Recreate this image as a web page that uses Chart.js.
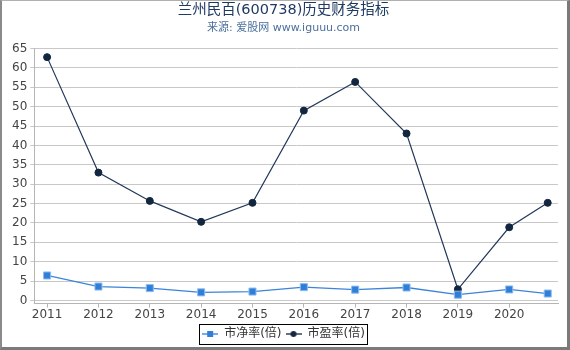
<!DOCTYPE html>
<html>
<head>
<meta charset="utf-8">
<script src="https://cdn.jsdelivr.net/npm/chart.js@4/dist/chart.umd.min.js"></script>
<style>
  html, body { margin: 0; padding: 0; background: #fff; }
  canvas { display: block; position: absolute; left: 0; top: 0; }
  #frame {
    position: absolute; left: 0; top: 0;
    width: 565px; height: 346px;
    border-left: 2px solid #8a8a8a;
    border-top: 1px solid #b0b0b0;
    border-right: 3px solid #7a7a7a;
    border-bottom: 3px solid #7a7a7a;
    pointer-events: none;
  }
</style>
</head>
<body>
<canvas id="chart" width="570" height="350"></canvas>
<div id="frame"></div>
<script>
// data
const years = [2011, 2012, 2013, 2014, 2015, 2016, 2017, 2018, 2019, 2020, 2020.75];
const tickYears = [2011, 2012, 2013, 2014, 2015, 2016, 2017, 2018, 2019, 2020];
const pbValues = [6.46, 3.6, 3.2, 2.1, 2.3, 3.45, 2.8, 3.35, 1.5, 2.85, 1.8];
const peValues = [62.8, 33.0, 25.7, 20.3, 25.2, 49.0, 56.4, 43.1, 2.9, 18.9, 25.2];
const seriesNames = ['市净率(倍)', '市盈率(倍)'];

const FONT = "'DejaVu Sans', 'Noto Sans CJK SC', sans-serif";
const PB_COLOR = '#2f7fd8';
const PE_COLOR = '#132640';

// small legend swatch: line with the marker in the middle
function swatch(color, shape) {
  const c = document.createElement('canvas');
  c.width = 16; c.height = 10;
  const g = c.getContext('2d');
  g.strokeStyle = color; g.lineWidth = 1.3;
  g.beginPath(); g.moveTo(0, 5); g.lineTo(16, 5); g.stroke();
  g.fillStyle = color;
  if (shape === 'rect') {
    g.fillRect(5, 2, 6, 6);
  } else {
    g.beginPath(); g.arc(8, 5, 3, 0, Math.PI * 2); g.fill();
  }
  return c;
}
const swatches = [swatch(PB_COLOR, 'rect'), swatch(PE_COLOR, 'circle')];

const toPoints = vals => vals.map((v, i) => ({ x: years[i], y: v }));

// draws the black box around the legend
const legendBox = {
  id: 'legendBox',
  afterDraw(chart) {
    const boxes = chart.legend && chart.legend.legendHitBoxes;
    if (!boxes || !boxes.length) return;
    let l = Infinity, t = Infinity, r = -Infinity, b = -Infinity;
    boxes.forEach(h => {
      l = Math.min(l, h.left); t = Math.min(t, h.top);
      r = Math.max(r, h.left + h.width); b = Math.max(b, h.top + h.height);
    });
    const ctx = chart.ctx;
    ctx.save();
    ctx.strokeStyle = '#000';
    ctx.lineWidth = 1;
    ctx.strokeRect(Math.round(l - 3) + 0.5, Math.round(t - 4) + 0.5, Math.round(r - l + 5), Math.round(b - t + 8));
    ctx.restore();
  }
};

new Chart(document.getElementById('chart'), {
  type: 'line',
  data: {
    datasets: [
      {
        label: seriesNames[0],
        data: toPoints(pbValues),
        borderColor: '#3b84da',
        borderWidth: 1.3,
        pointStyle: 'rect',
        pointRadius: 5,
        pointBackgroundColor: PB_COLOR,
        pointBorderColor: '#8fbdf0',
        pointBorderWidth: 1,
        tension: 0
      },
      {
        label: seriesNames[1],
        data: toPoints(peValues),
        borderColor: '#22385a',
        borderWidth: 1.2,
        pointStyle: 'circle',
        pointRadius: 3.5,
        pointBackgroundColor: PE_COLOR,
        pointBorderColor: PE_COLOR,
        pointBorderWidth: 1,
        tension: 0
      }
    ]
  },
  options: {
    responsive: false,
    animation: false,
    layout: { padding: { left: 9, right: 12, top: 0, bottom: 0 } },
    plugins: {
      title: {
        display: true,
        text: '兰州民百(600738)历史财务指标',
        color: '#1f3a62',
        font: { family: FONT, size: 14.5, weight: 'normal' },
        padding: { top: 2, bottom: 0 }
      },
      subtitle: {
        display: true,
        text: '来源: 爱股网 www.iguuu.com',
        color: '#4a6f9c',
        font: { family: FONT, size: 11, weight: 'normal' },
        padding: { top: 2, bottom: 14 }
      },
      legend: {
        display: true,
        position: 'bottom',
        labels: {
          usePointStyle: true,
          pointStyleWidth: 16,
          padding: 4,
          color: '#333',
          font: { family: FONT, size: 12 },
          generateLabels(chart) {
            return chart.data.datasets.map((ds, i) => ({
              text: ds.label,
              pointStyle: swatches[i],
              fillStyle: 'transparent',
              strokeStyle: 'transparent',
              lineWidth: 0,
              fontColor: '#333',
              hidden: false,
              datasetIndex: i
            }));
          }
        }
      },
      tooltip: { enabled: false }
    },
    scales: {
      x: {
        type: 'linear',
        min: 2010.75,
        max: 2020.95,
        afterBuildTicks(scale) {
          scale.ticks = tickYears.map(v => ({ value: v }));
        },
        afterFit(scale) {
          scale.height += 2;
        },
        ticks: {
          color: '#444',
          font: { family: FONT, size: 12 },
          padding: 0,
          autoSkip: false,
          maxRotation: 0,
          callback: v => String(v)
        },
        grid: { drawOnChartArea: false, drawTicks: true, tickLength: 4, color: '#b5b5b5' },
        border: { display: true, color: '#b5b5b5' }
      },
      y: {
        min: -0.8,
        max: 65,
        ticks: {
          stepSize: 5,
          includeBounds: false,
          color: '#444',
          font: { family: FONT, size: 12 },
          padding: 3
        },
        grid: { color: '#c8c8c8', tickLength: 4, drawTicks: true },
        border: { display: true, color: '#b5b5b5' }
      }
    }
  },
  plugins: [legendBox]
});
</script>
</body>
</html>
